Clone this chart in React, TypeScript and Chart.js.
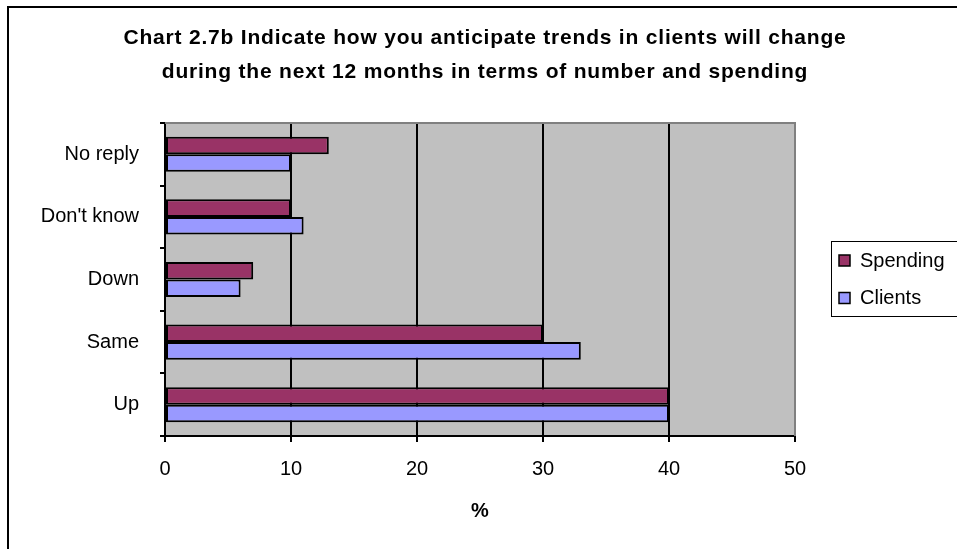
import React, { useEffect, useRef } from 'react';
import { Chart, registerables } from 'chart.js';

Chart.register(...registerables);

const categories = ['No reply', "Don't know", 'Down', 'Same', 'Up'];
const spending = [13, 10, 7, 30, 40];
const clients = [10, 11, 6, 33, 40];
const seriesNames = ['Spending', 'Clients'];
const seriesColors = ['#993366', '#9999FF'];
const xMin = 0;
const xMax = 50;
const xStep = 10;
const titleLines = [
  'Chart 2.7b Indicate how you anticipate trends in clients will change',
  'during the next 12 months in terms of number and spending',
];
const xAxisTitle = '%';

const FONT = '"Liberation Sans", Arial, sans-serif';

const decorPlugin = {
  id: 'decor',
  beforeDraw(chart: any) {
    const { ctx, chartArea: a } = chart;
    ctx.save();
    ctx.fillStyle = '#ffffff';
    ctx.fillRect(0, 0, chart.width, chart.height);
    ctx.fillStyle = '#C0C0C0';
    ctx.fillRect(a.left, a.top, a.right - a.left, a.bottom - a.top);
    ctx.restore();
  },
  beforeDatasetsDraw(chart: any) {
    const { ctx, chartArea: a } = chart;
    ctx.save();
    ctx.strokeStyle = '#808080';
    ctx.lineWidth = 2;
    ctx.beginPath();
    ctx.moveTo(a.left, a.top);
    ctx.lineTo(a.right, a.top);
    ctx.lineTo(a.right, a.bottom);
    ctx.stroke();
    ctx.restore();
  },
  afterDraw(chart: any) {
    const { ctx, width, height } = chart;
    ctx.save();
    // outer frame (left and top edges)
    ctx.fillStyle = '#000';
    ctx.fillRect(7, 6, 2, height - 6);
    ctx.fillRect(7, 6, width - 7, 2);

    // title
    ctx.fillStyle = '#000';
    ctx.font = `bold 21px ${FONT}`;
    (ctx as any).letterSpacing = '0.8px';
    ctx.textAlign = 'center';
    ctx.textBaseline = 'middle';
    titleLines.forEach((line, i) => {
      ctx.fillText(line, 485, 38 + i * 34);
    });
    (ctx as any).letterSpacing = '0px';

    // legend
    const lx = 831;
    const ly = 241;
    ctx.strokeStyle = '#000';
    ctx.lineWidth = 1;
    ctx.strokeRect(lx + 0.5, ly + 0.5, 200, 75);
    ctx.font = `20px ${FONT}`;
    ctx.textAlign = 'left';
    ctx.textBaseline = 'middle';
    chart.data.datasets.forEach((ds: any, i: number) => {
      const yc = 261 + i * 37.5;
      ctx.fillStyle = ds.backgroundColor;
      ctx.fillRect(839, yc - 6, 11, 11);
      ctx.lineWidth = 1.5;
      ctx.strokeStyle = '#000';
      ctx.strokeRect(839, yc - 6, 11, 11);
      ctx.fillStyle = '#000';
      ctx.fillText(ds.label, 860, yc);
    });
    ctx.restore();
  },
};

export default function App() {
  const ref = useRef<HTMLCanvasElement>(null);

  useEffect(() => {
    if (!ref.current) return;
    const chart = new Chart(ref.current, {
      type: 'bar',
      data: {
        labels: categories,
        datasets: [
          {
            label: seriesNames[0],
            data: spending,
            backgroundColor: seriesColors[0],
            borderColor: '#000',
            borderWidth: 2,
            borderSkipped: false,
            barPercentage: 1,
            categoryPercentage: 0.56,
          },
          {
            label: seriesNames[1],
            data: clients,
            backgroundColor: seriesColors[1],
            borderColor: '#000',
            borderWidth: 2,
            borderSkipped: false,
            barPercentage: 1,
            categoryPercentage: 0.56,
          },
        ],
      },
      options: {
        indexAxis: 'y',
        animation: false,
        responsive: false,
        devicePixelRatio: 1,
        layout: { padding: { left: 0, top: 123, right: 162, bottom: 0 } },
        plugins: {
          legend: { display: false },
          title: { display: false },
          tooltip: { enabled: false },
        },
        scales: {
          x: {
            type: 'linear',
            min: xMin,
            max: xMax,
            afterFit: (s: any) => {
              s.height = 113;
            },
            ticks: {
              stepSize: xStep,
              color: '#000',
              font: { family: FONT, size: 20 },
              padding: 15,
            },
            grid: {
              color: (c: any) => (c.tick && c.tick.value === xMax ? 'rgba(0,0,0,0)' : '#000'),
              tickColor: '#000',
              lineWidth: 2,
              tickLength: 6,
            },
            border: { color: '#000', width: 2 },
            title: {
              display: true,
              text: xAxisTitle,
              color: '#000',
              font: { family: FONT, size: 20, weight: 'bold' },
              padding: { top: 0, bottom: 26 },
            },
          },
          y: {
            type: 'category',
            afterFit: (s: any) => {
              s.width = 165;
            },
            ticks: {
              color: '#000',
              font: { family: FONT, size: 20 },
              padding: 21,
            },
            grid: {
              drawOnChartArea: false,
              offset: true,
              color: '#000',
              lineWidth: 2,
              tickLength: 5,
            },
            border: { color: '#000', width: 2 },
          },
        },
      },
      plugins: [decorPlugin],
    });
    return () => chart.destroy();
  }, []);

  return (
    <div style={{ position: 'absolute', left: 0, top: 0, width: 957, height: 549 }}>
      <canvas ref={ref} width={957} height={549} style={{ display: 'block' }} />
    </div>
  );
}
